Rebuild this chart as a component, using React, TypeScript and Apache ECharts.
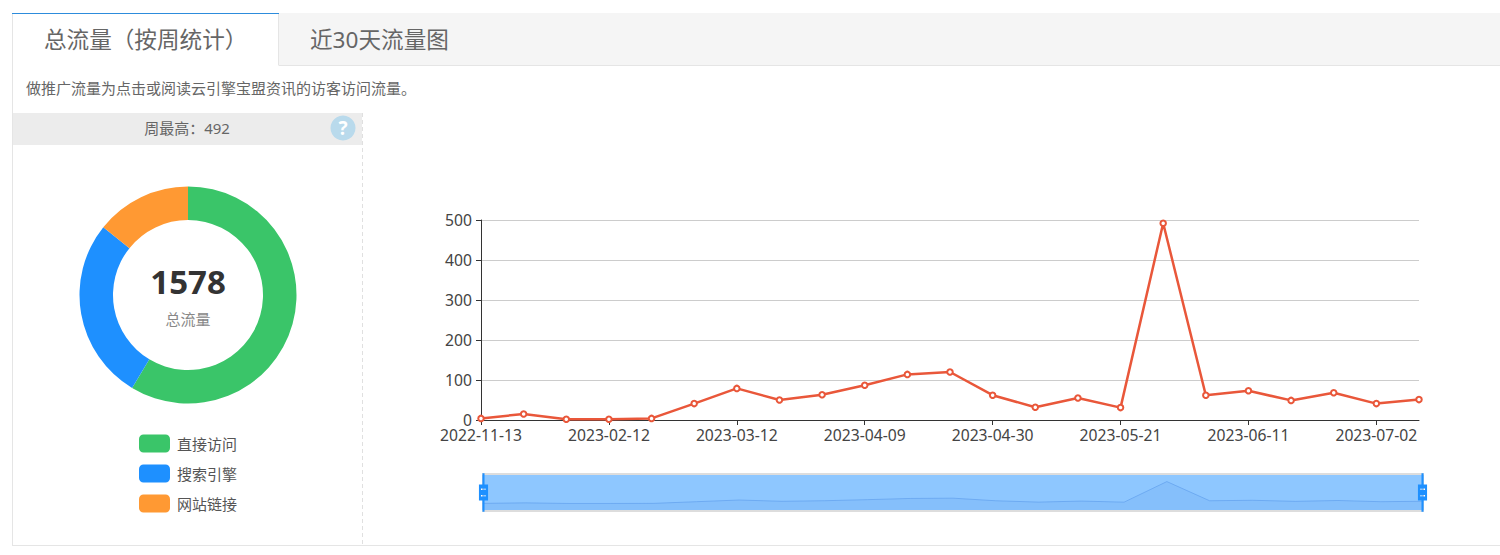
import React, { useEffect, useRef } from "react";
import * as echarts from "echarts";

const weeks = [
  "2022-11-13", "2022-11-20", "2023-01-29", "2023-02-12", "2023-02-19", "2023-02-26",
  "2023-03-12", "2023-03-19", "2023-04-02", "2023-04-09", "2023-04-16", "2023-04-23",
  "2023-04-30", "2023-05-07", "2023-05-14", "2023-05-21", "2023-05-28", "2023-06-04",
  "2023-06-11", "2023-06-18", "2023-06-25", "2023-07-02", "2023-07-09",
];
const weeklyFlow = [4, 15, 2, 2, 4, 41, 79, 50, 63, 87, 114, 120, 62, 32, 55, 31, 492, 62, 73, 49, 68, 41, 51];
const sourceNames = ["直接访问", "搜索引擎", "网站链接"];
const sourceValues = [925, 428, 225];
const sourceColors = ["#3AC569", "#1E90FF", "#FF9933"];
const tabLabels = ["总流量（按周统计）", "近30天流量图"];
const noteText = "做推广流量为点击或阅读云引擎宝盟资讯的访客访问流量。";
const peakText = "周最高：492";
const totalText = "1578";
const totalLabel = "总流量";

const FONT = '"Noto Sans", "Noto Sans CJK SC", sans-serif';
const HANDLE =
  "path://M-1,-19H1V-8H4.5V8H1V19H-1V8H-4.5V-8H-1Z M-2.5,-4V-2.5H2.5V-4Z M-2.5,2.5V4H2.5V2.5Z";

export default function App() {
  const ref = useRef<HTMLDivElement>(null);
  useEffect(() => {
    const chart = echarts.init(ref.current!, undefined, { renderer: "svg" });
    const txt = (x: number, y: number, text: string, size: number, fill: string, align = "left", weight: any = "normal") => ({
      type: "text",
      x,
      y,
      silent: true,
      style: { text, fontSize: size, fill, align, verticalAlign: "middle", fontFamily: FONT, fontWeight: weight },
    });
    const rect = (x: number, y: number, width: number, height: number, fill: string) => ({
      type: "rect",
      silent: true,
      shape: { x, y, width, height },
      style: { fill },
    });
    const line = (x1: number, y1: number, x2: number, y2: number, stroke: string, dash?: number[]) => ({
      type: "line",
      silent: true,
      shape: { x1, y1, x2, y2 },
      style: { stroke, lineWidth: 1, lineDash: dash },
    });
    chart.setOption({
      animation: false,
      textStyle: { fontFamily: FONT },
      graphic: [
        rect(279, 13, 1221, 52, "#F5F5F5"),
        line(278.5, 13, 278.5, 65.5, "#E5E5E5"),
        line(279, 65.5, 1500, 65.5, "#E5E5E5"),
        line(12.5, 13, 12.5, 546, "#E5E5E5"),
        line(12, 545.5, 1500, 545.5, "#E5E5E5"),
        line(12, 13.5, 279, 13.5, "#2D8CDC"),
        txt(44, 39.5, tabLabels[0], 22.6, "#666666"),
        txt(310, 39.5, tabLabels[1], 22.6, "#666666"),
        txt(26, 88, noteText, 15, "#666666"),
        rect(13, 113, 349, 32, "#ECECEC"),
        line(362.5, 113, 362.5, 545, "#E0E0E0", [4, 3]),
        txt(187, 128, peakText, 15, "#666666", "center"),
        { type: "circle", silent: true, shape: { cx: 343, cy: 128, r: 12.5 }, style: { fill: "#B9DAEC" } },
        txt(343, 128, "?", 19, "#FFFFFF", "center", "bold"),
        txt(188, 281.5, totalText, 33, "#333333", "center", "bold"),
        txt(188, 319, totalLabel, 15, "#888888", "center"),
        {
          type: "rect",
          silent: true,
          z: -1,
          shape: { x: 483, y: 474, width: 940, height: 37 },
          style: { fill: "none", stroke: "#DDDDDD", lineWidth: 2 },
        },
      ],
      legend: {
        orient: "vertical",
        left: 139,
        top: 434.5,
        padding: 0,
        icon: "roundRect",
        itemWidth: 31,
        itemHeight: 18,
        itemGap: 12,
        data: sourceNames,
        selectedMode: false,
        textStyle: { fontSize: 15, color: "#555555", fontFamily: FONT, padding: [0, 0, 0, 2] },
      },
      grid: { left: 481, top: 220, width: 938, height: 200, containLabel: false },
      xAxis: {
        type: "category",
        data: weeks,
        boundaryGap: false,
        axisLine: { lineStyle: { color: "#333333" } },
        axisTick: { interval: 2, length: 5, lineStyle: { color: "#333333" } },
        axisLabel: { interval: 2, fontSize: 15.7, color: "#444444", margin: 7, fontFamily: FONT, hideOverlap: false },
        splitLine: { show: false },
      },
      yAxis: {
        type: "value",
        min: 0,
        max: 500,
        interval: 100,
        axisLine: { show: true, lineStyle: { color: "#333333" } },
        axisTick: { show: true, length: 5, lineStyle: { color: "#333333" } },
        axisLabel: { fontSize: 15.7, color: "#444444", margin: 9, fontFamily: FONT },
        splitLine: { lineStyle: { color: "#CCCCCC" } },
      },
      dataZoom: [
        {
          type: "slider",
          xAxisIndex: 0,
          start: 0,
          end: 100,
          left: 480,
          width: 941,
          top: 475,
          height: 35,
          showDetail: false,
          brushSelect: false,
          backgroundColor: "rgba(47,69,84,0)",
          borderColor: "transparent",
          fillerColor: "rgba(30,144,255,0.5)",
          handleIcon: HANDLE,
          handleSize: "110%",
          handleStyle: { color: "#1E90FF", borderColor: "#1E90FF", borderWidth: 0 },
          moveHandleSize: 0,
          dataBackground: {
            lineStyle: { color: "#5A9FE0", width: 0.5, opacity: 0.5 },
            areaStyle: { color: "#5A9FE0", opacity: 0.3 },
          },
        },
      ],
      series: [
        {
          type: "pie",
          name: "流量来源",
          center: [188, 295],
          radius: [75, 108.5],
          startAngle: 90,
          silent: true,
          label: { show: false },
          labelLine: { show: false },
          data: sourceNames.map((name, i) => ({
            name,
            value: sourceValues[i],
            itemStyle: { color: sourceColors[i] },
          })),
        },
        {
          type: "line",
          name: "总流量",
          data: weeklyFlow,
          symbol: "emptyCircle",
          symbolSize: 5.5,
          showAllSymbol: true,
          lineStyle: { color: "#E9573A", width: 2.5 },
          itemStyle: { color: "#E9573A", borderColor: "#E9573A", borderWidth: 0.8 },
        },
      ],
    });
    return () => chart.dispose();
  }, []);
  return (
    <div
      ref={ref}
      style={{ position: "fixed", left: 0, top: 0, width: 1500, height: 555, background: "#fff" }}
    />
  );
}
